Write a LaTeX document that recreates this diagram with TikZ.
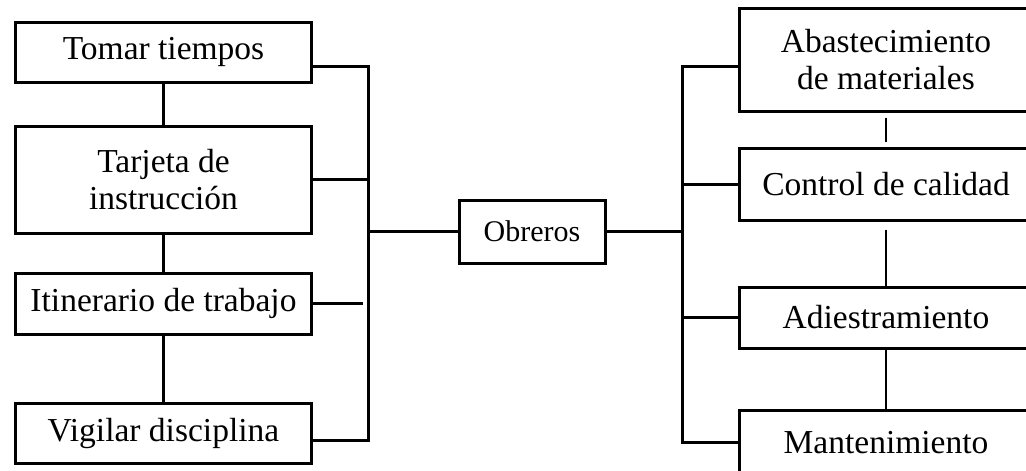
\documentclass[tikz,border=0pt]{standalone}
\usepackage{fontspec}
\setmainfont{Liberation Serif}
\usetikzlibrary{calc}

\begin{document}
\begin{tikzpicture}[x=1pt,y=-1pt,
  every node/.style={draw=black,line width=3pt,align=center,inner sep=0pt,font=\fontsize{33.5}{37}\selectfont},
  izq/.style={minimum width=296pt},
  der/.style={minimum width=294pt}]
  \useasboundingbox (0,0) rectangle (1026,471);
  \clip (0,0) rectangle (1026,471);
  % left column
  \node[izq,minimum height=60pt] (tomar) at (163.5,52) {Tomar tiempos};
  \node[izq,minimum height=107pt] (tarjeta) at (163.5,179.5) {Tarjeta de\\instrucción};
  \node[izq,minimum height=61pt] (itinerario) at (163.5,303.5) {Itinerario de trabajo};
  \node[izq,minimum height=60pt] (vigilar) at (163.5,433) {Vigilar disciplina};
  % centre
  \node[minimum width=146pt,minimum height=63pt,font=\fontsize{30}{34}\selectfont] (obreros) at (532,231.5) {Obreros};
  % right column
  \node[der,minimum height=103pt] (abast) at (886,59.5) {Abastecimiento\\de materiales};
  \node[der,minimum height=72pt] (control) at (886,184) {Control de calidad};
  \node[der,minimum height=61pt] (adiest) at (886,317.5) {Adiestramiento};
  \node[der,minimum height=66pt] (mant) at (886,443) {Mantenimiento};
  % buses
  \coordinate (lt) at (368,66);
  \coordinate (lb) at (368,440);
  \coordinate (rt) at (682,66);
  \coordinate (rb) at (682,442);
  \begin{scope}[line width=3pt]
    \draw (tomar) -- (tarjeta);
    \draw (tarjeta) -- (itinerario);
    \draw (itinerario) -- (vigilar);
    \draw (tomar.east |- lt) -- (lt) -- (lb) -- (vigilar.east |- lb);
    \draw (tarjeta.east) -- (tarjeta.east -| lt);
    \draw (itinerario.east) -- ($(itinerario.east -| lt)+(-5,0)$);
    \draw (lt |- obreros.west) -- (obreros.west);
    \draw (obreros.east) -- (obreros.east -| rt);
    \draw (abast.west |- rt) -- (rt) -- (rb) -- (mant.west |- rb);
    \draw (control.west) -- (control.west -| rt);
    \draw (adiest.west) -- (adiest.west -| rt);
  \end{scope}
  \draw[line width=2pt,shorten <=5pt,shorten >=5pt] (abast) -- (control);
  \draw[line width=2pt,shorten <=8pt] (control) -- (adiest);
  \draw[line width=2pt] (adiest) -- (mant);
\end{tikzpicture}
\end{document}
